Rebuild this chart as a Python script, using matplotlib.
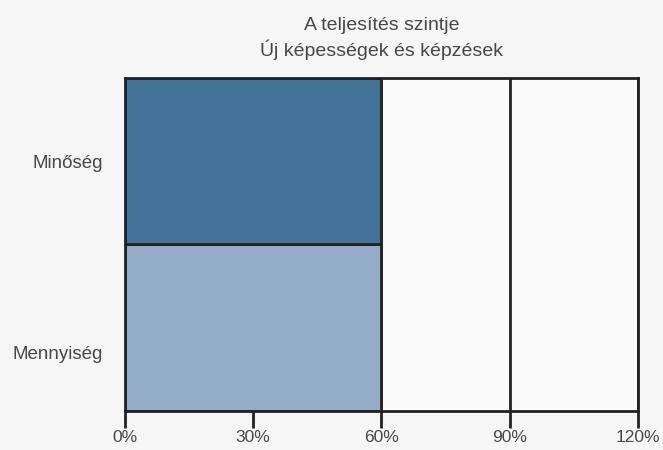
import matplotlib
matplotlib.use("Agg")
import matplotlib.pyplot as plt
from matplotlib.ticker import FuncFormatter

# Data
categories = ["Mennyiség", "Minőség"]
values = [60, 60]
bar_colors = ["#93adc8", "#427399"]
xticks = [0, 30, 60, 90, 120]
title = "A teljesítés szintje\nÚj képességek és képzések"

plt.rcParams['font.family'] = ['Liberation Sans', 'DejaVu Sans']

fig = plt.figure(figsize=(6.63, 4.5), dpi=100)
fig.patch.set_facecolor("#f6f6f6")
ax = fig.add_axes([0.1885, 0.0867, 0.7738, 0.74])
ax.set_facecolor("#fafafa")

ax.barh(range(len(categories)), values, height=1.0, color=bar_colors,
        edgecolor="#222222", linewidth=2, zorder=3)

ax.set_xlim(0, 120)
ax.set_ylim(-0.5, 1.5)
ax.set_xticks(xticks)
ax.xaxis.set_major_formatter(FuncFormatter(lambda v, p: f"{int(v)}%"))
# category labels sit slightly off-centre in the original
ax.set_yticks([-0.15, 1.0])
ax.set_yticklabels(categories)

ax.grid(axis="x", color="#222222", linewidth=2, zorder=1)
ax.set_axisbelow(True)
for s in ax.spines.values():
    s.set_color("#222222")
    s.set_linewidth(2)
    s.set_zorder(4)

ax.tick_params(axis="x", length=12, width=2, color="#222222", labelsize=12.5,
               labelcolor="#474747", pad=2)
ax.tick_params(axis="y", length=0, labelsize=13.5, labelcolor="#474747", pad=16)

ax.set_title(title, fontsize=14, color="#474747", pad=16, linespacing=1.3)

fig.savefig("out.png", dpi=100, facecolor=fig.get_facecolor())
